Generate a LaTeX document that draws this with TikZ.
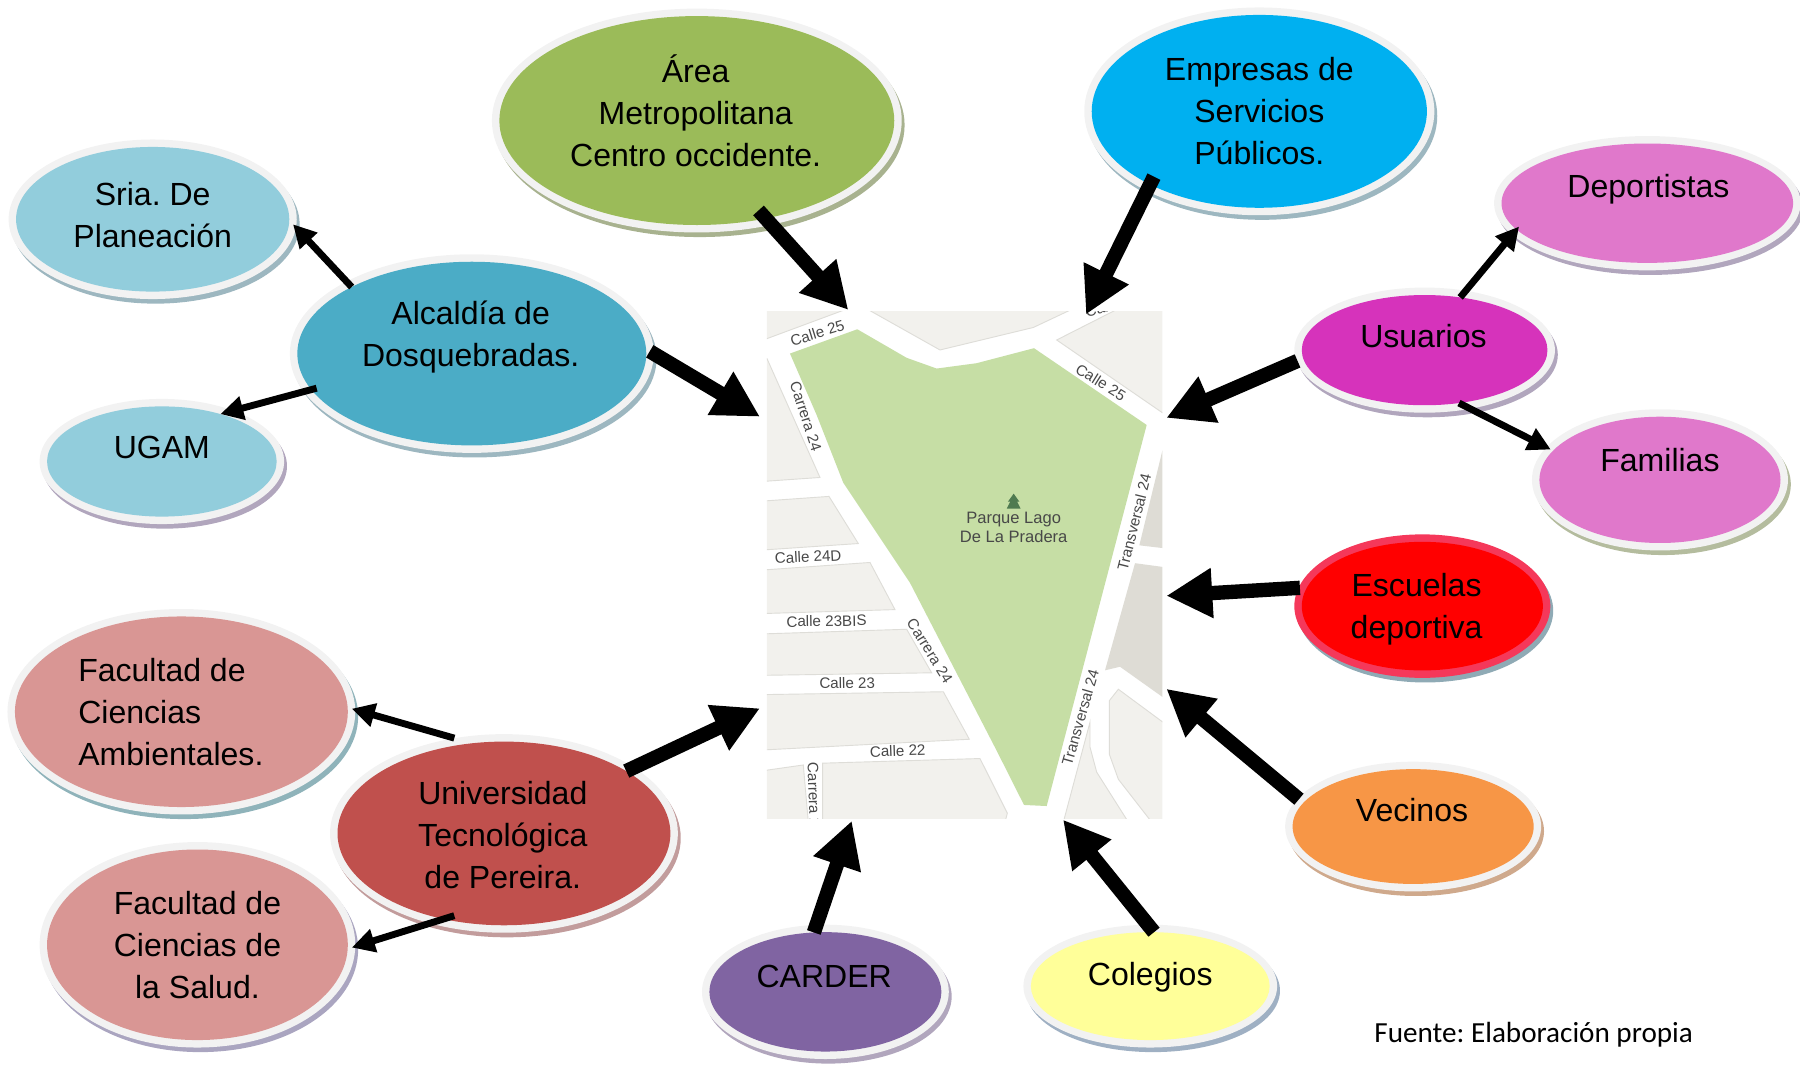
\documentclass[tikz,border=0pt]{standalone}
\usepackage{fontspec}
\setmainfont{Liberation Sans}
\newfontfamily\carlitofont{Carlito}
\usetikzlibrary{arrows.meta,shapes.geometric}
\frenchspacing
\definecolor{ringc}{HTML}{F2F2F2}
\definecolor{ringred}{HTML}{F5385A}
\definecolor{blockc}{HTML}{F2F1ED}
\definecolor{blockline}{HTML}{DEDDD8}
\definecolor{beigec}{HTML}{DEDCD5}
\definecolor{parkc}{HTML}{C6DEA5}
\definecolor{labelc}{HTML}{484848}
\definecolor{treec}{HTML}{4F7A50}
\definecolor{cgreen}{HTML}{9BBB59}
\definecolor{ccyan}{HTML}{00B0F0}
\definecolor{clblue}{HTML}{92CDDC}
\definecolor{cblue}{HTML}{4BACC6}
\definecolor{clmag}{HTML}{E078CB}
\definecolor{cmag}{HTML}{D633BB}
\definecolor{cred}{HTML}{FF0000}
\definecolor{corange}{HTML}{F79646}
\definecolor{cyellow}{HTML}{FFFF99}
\definecolor{cpurple}{HTML}{8064A2}
\definecolor{cbrick}{HTML}{C0504D}
\definecolor{cpink}{HTML}{D99694}
\definecolor{sgreen}{HTML}{A8B28F}
\definecolor{sblue}{HTML}{9DB7C0}
\definecolor{spurple}{HTML}{B1A6BD}
\definecolor{solive}{HTML}{B4BC9E}
\definecolor{steal}{HTML}{8FAAB5}
\definecolor{sorange}{HTML}{CFA98C}
\definecolor{sslate}{HTML}{9FB0C3}
\definecolor{srose}{HTML}{C29C9C}
\definecolor{saqua}{HTML}{8FB3BA}
\definecolor{sviolet}{HTML}{AAA5C0}
\tikzset{
  blob/.style={ellipse,draw=none,inner sep=0pt,outer sep=0pt},
  btxt/.style={align=center,inner sep=0pt,font=\fontsize{27.9}{36.6}\selectfont,text=black},
  bigarrow/.style={line width=12.5pt,draw=black,-{Triangle[length=40pt,width=41pt]}},
  smallarrow/.style={line width=6pt,draw=black,-{Triangle[length=20pt,width=20pt]}},
  block/.style={fill=blockc,draw=blockline,line width=0.8pt},
  beige/.style={fill=beigec,draw=none},
  maplabel/.style={inner sep=0pt,text=labelc,font=\fontsize{13.2}{13.2}\selectfont},
  parklabel/.style={inner sep=0pt,text=labelc,font=\fontsize{14.4}{15}\selectfont},
}
% id, cx, cy, rx, ry, fill, shadow, ring
\newcommand{\bub}[8]{%
  \node[blob,fill=#7,minimum width={2*(#4+6.5)},minimum height={2*(#5+6.5)}] (#1S) at (#2+2.5,#3+4) {};
  \node[blob,fill=#8,minimum width={2*(#4+6.5)},minimum height={2*(#5+6.5)}] (#1O) at (#2,#3) {};
  \node[blob,fill=#6,minimum width={2*#4},minimum height={2*#5}] (#1) at (#2,#3) {};
}
\begin{document}
\begin{tikzpicture}[x=1pt,y=-1pt]
\useasboundingbox (0,0) rectangle (1568,926.9);
% map
\begin{scope}
\clip (668,271) rectangle (1012.6,713.2);
\fill[white] (668,271) rectangle (1012.6,713.2);
\begin{scope}[shift={(653.3,252.6)},x=0.2904pt,y=-0.3111pt]
\draw[block] (40,50)--(300,50)--(40,140)--cycle;
\draw[block] (345,50)--(975,50)--(850,105)--(570,168)--cycle;
\draw[block] (920,140)--(1110,50)--(1250,50)--(1250,352)--cycle;
\draw[block] (40,192)--(51,192)--(210,525)--(40,536)--cycle;
\draw[block] (40,591)--(237,578)--(325,710)--(40,728)--cycle;
\draw[block] (40,784)--(360,763)--(435,895)--(40,906)--cycle;
\draw[block] (40,963)--(470,950)--(545,1072)--(40,1079)--cycle;
\draw[block] (40,1133)--(580,1125)--(658,1258)--(40,1288)--cycle;
\draw[block] (40,1346)--(160,1330)--(175,1490)--(40,1490)--cycle;
\draw[block] (218,1325)--(690,1312)--(772,1465)--(765,1490)--(218,1490)--cycle;
\fill[beige] (1250,400)--(1168,715)--(1250,724)--cycle;
\fill[beige] (1155,765)--(1250,777)--(1250,1148)--(1110,1055)--(1065,1065)--cycle;
\draw[block] (1105,1118)--(1250,1218)--(1250,1490)--(1205,1490)--(1105,1370)--(1078,1300)--(1078,1150)--cycle;
\draw[block] (1020,1210)--(940,1490)--(1135,1490)--(1040,1350)--(1020,1280)--cycle;
\fill[parkc] (120,178)--(322,110)--(470,190)--(560,220)--(680,205)--(852,163)--(1190,378)--(890,1445)--(822,1442)--(740,1290)--(480,820)--(280,540)--(200,350)--cycle;
\end{scope}
\node[maplabel,rotate=17] (m1) at (712,290) {Calle 25};
\node[maplabel,rotate=-72] (m2) at (702,363) {Carrera 24};
\node[maplabel,rotate=-32] (m3) at (959,333) {Calle 25};
\node[maplabel,rotate=15] (m4) at (969,266) {Calle 25};
\node[maplabel,rotate=76] (m5) at (988,455) {Transversal 24};
\node[maplabel,rotate=3] (m6) at (704,485) {Calle 24D};
\node[maplabel,rotate=1] (m7) at (720,541) {Calle 23BIS};
\node[maplabel,rotate=-58] (m8) at (810,567) {Carrera 24};
\node[maplabel,rotate=1] (m9) at (738,595) {Calle 23};
\node[maplabel,rotate=2] (m10) at (782,654) {Calle 22};
\node[maplabel,rotate=74] (m11) at (941,625) {Transversal 24};
\node[maplabel,rotate=-88,anchor=west] (m12) at (708,664) {Carrera 24};
\fill[treec] (883,430)--(888,437)--(886,437)--(889,443)--(877,443)--(880,437)--(878,437)--cycle;
\node[parklabel] (p1) at (883,452.5) {Parque Lago};
\node[parklabel] (p2) at (883,467.5) {De La Pradera};
\end{scope}
% bubbles
\bub{area}{607}{105}{172}{91}{cgreen}{sgreen}{ringc}
\bub{emp}{1097}{97}{146}{84}{ccyan}{sblue}{ringc}
\bub{sria}{133}{191}{119}{63}{clblue}{sblue}{ringc}
\bub{ugam}{141}{402}{100}{48}{clblue}{spurple}{ringc}
\bub{alc}{411}{308}{152}{80}{cblue}{sblue}{ringc}
\bub{dep}{1435}{177}{127}{52}{clmag}{spurple}{ringc}
\bub{fam}{1446}{418}{105}{55}{clmag}{solive}{ringc}
\bub{usu}{1241}{305}{107}{48}{cmag}{spurple}{ringc}
\bub{esc}{1239}{528}{105}{56}{cred}{steal}{ringred}
\bub{vec}{1231}{720}{105}{50}{corange}{sorange}{ringc}
\bub{col}{1002}{859}{104}{47}{cyellow}{sslate}{ringc}
\bub{car}{719}{864}{101}{52}{cpurple}{spurple}{ringc}
\bub{famb}{158}{620}{145}{83}{cpink}{saqua}{ringc}
\bub{fsal}{172}{823}{131}{83}{cpink}{sviolet}{ringc}
\bub{utp}{439}{726}{145}{80}{cbrick}{srose}{ringc}
% free ends at the map
\coordinate (tArea) at (739,270);
\coordinate (tEmp) at (946,274);
\coordinate (tAlc) at (662,363);
\coordinate (tUsu) at (1016,364);
\coordinate (tEsc) at (1016,519);
\coordinate (tVec) at (1016,600);
\coordinate (tCol) at (926,714);
\coordinate (tCar) at (742,715);
\coordinate (tUtp) at (662,617);
% connectors
\draw[bigarrow] ([shift={(-6,-7)}]area.-55) -- (tArea);
\draw[bigarrow] ([shift={(5,-6)}]emp.213) -- (tEmp);
\draw[bigarrow] ([shift={(3,-2)}]alc.0.7) -- (tAlc);
\draw[bigarrow] ([shift={(-5,2)}]usu.184.7) -- (tUsu);
\draw[bigarrow] ([shift={(-6,0)}]esc.171) -- (tEsc);
\draw[bigarrow] ([shift={(-5,-2)}]vec.167) -- (tVec);
\draw[bigarrow] (col.86) -- (tCol);
\draw[bigarrow] (car.101) -- (tCar);
\draw[bigarrow] (utp.27.4) -- (tUtp);
\draw[smallarrow] (alc.151) -- ([xshift=-3pt]sriaO.-2.3);
\draw[smallarrow] ([shift={(4,-2)}]alc.193) -- (ugam.39.4);
\draw[smallarrow] (usu.56) -- ([shift={(3,-2)}]dep.191);
\draw[smallarrow] (usu.-57) -- ([xshift=-3pt]fam.164.8);
\draw[smallarrow] ([shift={(-4,-6)}]utp.117.7) -- ([xshift=-3pt]fambO.1.5);
\draw[smallarrow] ([shift={(4,-4)}]utp.238.4) -- ([xshift=-3pt]fsalO.-1.7);
% texts
\node[btxt] (areaT) at (606,96.5) {Área\\Metropolitana\\Centro occidente.};
\node[btxt] (empT) at (1097,97) {Empresas de\\Servicios\\Públicos.};
\node[btxt] (sriaT) at (133,187) {Sria. De\\Planeación};
\node[btxt] (alcT) at (410,294) {Alcaldía de\\Dosquebradas.};
\node[btxt] (ugamT) at (141,390) {UGAM};
\node[btxt] (depT) at (1436,165) {Deportistas};
\node[btxt] (usuT) at (1240,293) {Usuarios};
\node[btxt] (famT) at (1446,401) {Familias};
\node[btxt] (escT) at (1234,531) {Escuelas\\deportiva};
\node[btxt] (vecT) at (1230,706) {Vecinos};
\node[btxt] (colT) at (1002,851) {Colegios};
\node[btxt] (carT) at (718,851) {CARDER};
\node[btxt] (utpT) at (438,727.5) {Universidad\\Tecnológica\\de Pereira.};
\node[btxt,align=left,anchor=west] (fambT) at (68,620) {Facultad de\\Ciencias\\Ambientales.};
\node[btxt] (fsalT) at (172,823) {Facultad de\\Ciencias de\\la Salud.};
\node[inner sep=0pt,font=\carlitofont\fontsize{25.4}{28}\selectfont] (fuente) at (1336,901) {Fuente: Elaboración propia};
\end{tikzpicture}
\end{document}
